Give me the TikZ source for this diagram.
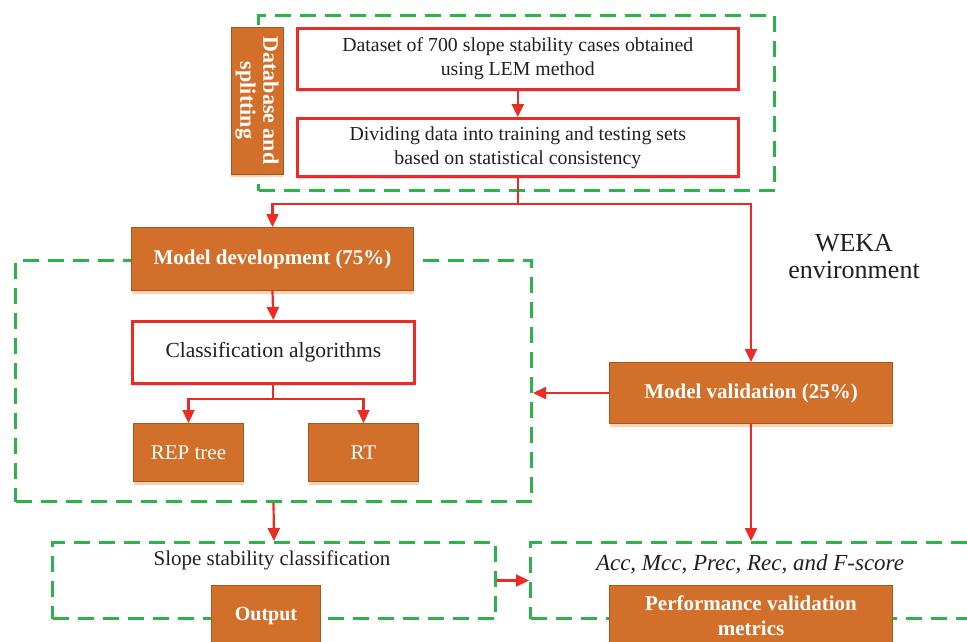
\documentclass[tikz,border=0pt]{standalone}
\usepackage{fontspec}
\setmainfont{Liberation Serif}
\usetikzlibrary{arrows.meta,shadows}
\definecolor{org}{HTML}{D2702B}
\definecolor{orgdark}{HTML}{A9561E}
\definecolor{peach}{HTML}{F9D3B4}
\definecolor{rd}{HTML}{EE2A24}
\definecolor{gr}{HTML}{2DB34A}
\definecolor{txt}{HTML}{231F20}
\definecolor{shblue}{HTML}{C9D8EE}
\tikzset{
  orgbox/.style={fill=org, draw=orgdark, line width=1pt, text=white, align=center,
    font=\fontsize{21}{24}\selectfont,
    drop shadow={shadow xshift=0pt, shadow yshift=-3pt, fill=peach, opacity=1}},
  redbox/.style={fill=white, draw=rd, line width=2.6pt, text=txt, align=center,
    font=\fontsize{21.5}{24}\selectfont,
    drop shadow={shadow xshift=0pt, shadow yshift=-3pt, fill=shblue, opacity=1}},
  gbox/.style={draw=gr, line width=3pt, dash pattern=on 16pt off 9pt},
  conn/.style={draw=rd, line width=2.2pt},
  arr/.style={conn, -{Triangle[length=13pt,width=12pt]}},
  plain/.style={text=txt, align=center, font=\fontsize{21}{24}\selectfont},
}
\begin{document}
\begin{tikzpicture}[x=1pt,y=-1pt]
\useasboundingbox (0,0) rectangle (967,641);
\clip (0,0) rectangle (967,641);
% green dashed boxes
\node[gbox, anchor=north west, minimum width=516pt, minimum height=175pt, inner sep=0pt] (g1) at (257,14) {};
\node[gbox, anchor=north west, minimum width=516pt, minimum height=241pt, inner sep=0pt] (g2) at (14,259) {};
\node[gbox, anchor=north west, minimum width=443pt, minimum height=76pt, inner sep=0pt] (g3) at (51,541) {};
\node[gbox, anchor=north west, minimum width=480pt, minimum height=76pt, inner sep=0pt] (g4) at (529,541) {};
% top section
\node[orgbox, rotate=-90, minimum width=147pt, minimum height=52pt, inner sep=1pt, font=\bfseries\fontsize{22}{23}\selectfont] (db) at (257,100.5) {Database and\\splitting};
\node[redbox, anchor=north west, minimum width=441pt, minimum height=61pt, inner sep=2pt, font=\fontsize{19.8}{24}\selectfont] (d1) at (296,27) {Dataset of 700 slope stability cases obtained\\using LEM method};
\node[redbox, anchor=north west, minimum width=441pt, minimum height=58pt, inner sep=2pt, font=\fontsize{19.8}{24}\selectfont] (d2) at (296,117) {Dividing data into training and testing sets\\based on statistical consistency};
% middle
\node[orgbox, anchor=north west, minimum width=282pt, minimum height=63pt, font=\bfseries\fontsize{21}{24}\selectfont] (md) at (131,227) {Model development (75\%)};
\node[redbox, anchor=north west, minimum width=282pt, minimum height=62pt] (ca) at (131,320) {Classification algorithms};
\node[orgbox, anchor=north west, minimum width=110pt, minimum height=58pt] (rep) at (133,423) {REP tree};
\node[orgbox, anchor=north west, minimum width=110pt, minimum height=58pt] (rt) at (308,423) {RT};
\node[orgbox, anchor=north west, minimum width=283pt, minimum height=61pt, font=\bfseries\fontsize{21}{24}\selectfont] (mv) at (609,362) {Model validation (25\%)};
\node[plain, font=\fontsize{26}{27}\selectfont] (weka) at (854,257) {WEKA\\environment};
% bottom
\node[plain] (ssc) at (272,560) {Slope stability classification};
\node[orgbox, anchor=north west, minimum width=109pt, minimum height=60pt, font=\bfseries\fontsize{20}{24}\selectfont] (out) at (211,585) {Output};
\node[plain, font=\itshape\fontsize{23}{24}\selectfont] (acc) at (750,564) {Acc, Mcc, Prec, Rec, and F-score};
\node[orgbox, anchor=north west, minimum width=283pt, minimum height=60pt, font=\bfseries\fontsize{21}{25}\selectfont] (pvm) at (609,585) {Performance validation\\metrics};
% connectors
\draw[arr] (d1.south) -- (d2.north);
\draw[conn] (d2.south) -- ++(0,26) coordinate (split);
\draw[arr] (split) -| (md.north);
\draw[arr] (split) -| (mv.north);
\draw[arr] (md.south) -- (ca.north);
\draw[conn] (ca.south) -- ++(0,14) coordinate (split2);
\draw[arr] (split2) -| (rep.north);
\draw[arr] (split2) -| (rt.north);
\draw[arr] (mv.west) -- (mv.west -| g2.east);
\draw[arr] (g2.south) -- (g3.north);
\draw[arr] (mv.south) -- (mv.south |- g4.north);
\draw[arr] (g3.east) -- (g4.west);
\end{tikzpicture}
\end{document}
